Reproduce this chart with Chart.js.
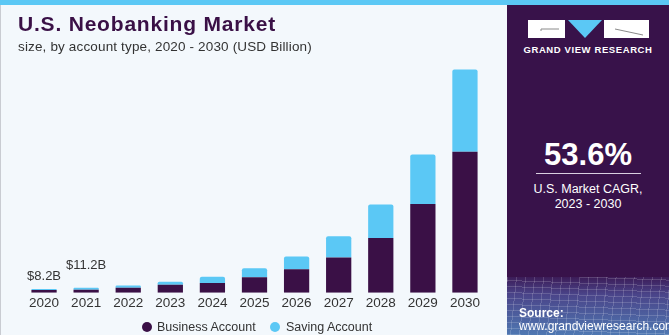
<!DOCTYPE html>
<html>
<head>
<meta charset="utf-8">
<script src="https://cdn.jsdelivr.net/npm/chart.js@4/dist/chart.umd.min.js"></script>
<style>
	html, body { margin: 0; padding: 0; }
	body {
		width: 669px; height: 335px; position: relative; overflow: hidden;
		background: #f3f8fc; font-family: "Liberation Sans", Arial, sans-serif;
	}
	.top-strip { position: absolute; left: 0; top: 0; width: 669px; height: 5px; background: #5bc8f5; }
	.left-edge { position: absolute; left: 0; top: 5px; width: 1px; height: 330px; background: #c9ccd2; }
	.title {
		position: absolute; left: 18px; top: 12px; margin: 0;
		font-size: 21px; font-weight: bold; color: #3a1046; letter-spacing: 0.8px;
	}
	.subtitle {
		position: absolute; left: 18px; top: 39px; margin: 0;
		font-size: 13.5px; color: #333; letter-spacing: 0.15px;
	}
	#chart-wrap { position: absolute; left: 0; top: 0; width: 507px; height: 335px; }
	.legend {
		position: absolute; top: 319px; left: 0; width: 507px; height: 16px;
		font-size: 12.5px; color: #333;
	}
	.legend span { position: absolute; top: 0; line-height: 16px; white-space: nowrap; }
	.legend i {
		position: absolute; top: 3px; width: 10px; height: 10px; border-radius: 50%;
	}
	.panel {
		position: absolute; left: 507px; top: 5px; width: 162px; height: 330px;
		background: #38124a; color: #fff; overflow: hidden;
	}
	.panel .mesh {
		position: absolute; left: 0; top: 272px; width: 162px; height: 58px;
		background:
			repeating-linear-gradient(96deg, rgba(255,255,255,0.16) 0 1px, transparent 1px 9px),
			repeating-linear-gradient(2deg, rgba(255,255,255,0.16) 0 1px, transparent 1px 6px),
			linear-gradient(180deg, #3c1c58 0%, #4a4489 30%, #4f78b2 100%);
	}
	.logo { position: absolute; left: 21px; top: 15px; width: 121px; height: 18px; }
	.logo .blk { position: absolute; top: 0; height: 18px; background: #fff; }
	.logo .tri {
		position: absolute; left: 40px; top: 0; width: 0; height: 0;
		border-left: 17px solid transparent; border-right: 17px solid transparent;
		border-top: 18px solid #5bc8f5;
	}
	.brand {
		position: absolute; left: 0; width: 162px; top: 39px; text-align: center;
		font-size: 9.5px; font-weight: bold; letter-spacing: 0.6px;
	}
	.cagr {
		position: absolute; left: 0; width: 162px; top: 132px; text-align: center;
		font-size: 31px; font-weight: bold;
	}
	.rule { position: absolute; left: 29px; width: 105px; top: 168px; height: 1px; background: #d8cfe0; }
	.cagr-note {
		position: absolute; left: 0; width: 162px; top: 177px; text-align: center;
		font-size: 12.5px; line-height: 15px;
	}
	.source { position: absolute; left: 12px; top: 302px; font-size: 12px; line-height: 13px; }
</style>
</head>
<body>
<div class="top-strip"></div>
<div class="left-edge"></div>
<div id="chart-wrap"><canvas id="neobanking-chart" width="507" height="335"></canvas></div>
<h1 class="title">U.S. Neobanking Market</h1>
<p class="subtitle">size, by account type, 2020 - 2030 (USD Billion)</p>
<div class="legend" id="legend"></div>

<div class="panel">
	<div class="mesh"></div>
	<div class="logo">
		<div class="blk" style="left:0; width:37px;"></div>
		<div class="tri"></div>
		<div class="blk" style="left:76px; width:45px;"></div>
		<svg width="121" height="18" style="position:absolute;left:0;top:0">
			<polyline points="13,11 13,9 31,9" fill="none" stroke="#8a8a8a" stroke-width="1"/>
			<line x1="87" y1="9" x2="115" y2="15" stroke="#8a8a8a" stroke-width="1"/>
		</svg>
	</div>
	<div class="brand">GRAND VIEW RESEARCH</div>
	<div class="cagr">53.6%</div>
	<div class="rule"></div>
	<div class="cagr-note">U.S. Market CAGR,<br>2023 - 2030</div>
	<div class="source"><b>Source:</b><br>www.grandviewresearch.com</div>
</div>

<script>
	// Market size by account type, USD billion
	const years = ['2020', '2021', '2022', '2023', '2024', '2025', '2026', '2027', '2028', '2029', '2030'];
	const businessAccount = [5.9, 6.8, 11.0, 17.6, 21.3, 34.3, 51.9, 77.7, 120.3, 195.1, 309.5];
	const savingAccount = [2.3, 4.4, 5.1, 6.6, 13.9, 19.8, 28.0, 46.2, 73.3, 108.5, 180.4];

	// Total labels shown above the first bars
	const totalLabels = ['$8.2B', '$11.2B'];

	const PURPLE = '#3a1046';
	const SKY = '#5bc8f5';
	const FONT = '"Liberation Sans", Arial, sans-serif';

	/**
	 * Writes the total value above the first stacked bars
	 */
	const totalLabelPlugin = {
		id: 'totalLabels',
		afterDatasetsDraw(chart) {
			const ctx = chart.ctx;
			const topMeta = chart.getDatasetMeta(1);
			const lift = [13, 22];
			ctx.save();
			ctx.font = '13px ' + FONT;
			ctx.fillStyle = '#333';
			ctx.textAlign = 'center';
			ctx.textBaseline = 'middle';
			totalLabels.forEach((text, i) => {
				const bar = topMeta.data[i];
				ctx.fillText(text, bar.x, bar.y - lift[i]);
			});
			ctx.restore();
		}
	};

	/**
	 * Builds the legend row under the axis
	 */
	function buildLegend(chart) {
		const legend = document.getElementById('legend');
		const spots = [{ dot: 142, text: 157 }, { dot: 270, text: 286 }];
		chart.data.datasets.forEach((ds, i) => {
			const dot = document.createElement('i');
			dot.style.left = spots[i].dot + 'px';
			dot.style.background = ds.backgroundColor;
			const label = document.createElement('span');
			label.style.left = spots[i].text + 'px';
			label.textContent = ds.label;
			legend.appendChild(dot);
			legend.appendChild(label);
		});
	}

	const chart = new Chart(document.getElementById('neobanking-chart'), {
		type: 'bar',
		data: {
			labels: years,
			datasets: [
				{
					label: 'Business Account',
					data: businessAccount,
					backgroundColor: PURPLE,
					categoryPercentage: 0.6,
					barPercentage: 1
				},
				{
					label: 'Saving Account',
					data: savingAccount,
					backgroundColor: SKY,
					borderRadius: { topLeft: 2, topRight: 2 },
					borderSkipped: 'bottom',
					categoryPercentage: 0.6,
					barPercentage: 1
				}
			]
		},
		options: {
			responsive: false,
			animation: false,
			layout: {
				padding: { left: 23, right: 21, top: 65, bottom: 22 }
			},
			plugins: {
				legend: { display: false },
				tooltip: { enabled: false }
			},
			scales: {
				x: {
					stacked: true,
					grid: { display: false, drawTicks: false },
					border: { display: false },
					ticks: {
						color: '#333',
						padding: 2,
						font: { size: 13.5, family: FONT }
					}
				},
				y: {
					stacked: true,
					display: false,
					min: 0,
					max: 500
				}
			}
		},
		plugins: [totalLabelPlugin]
	});

	buildLegend(chart);
</script>
</body>
</html>
